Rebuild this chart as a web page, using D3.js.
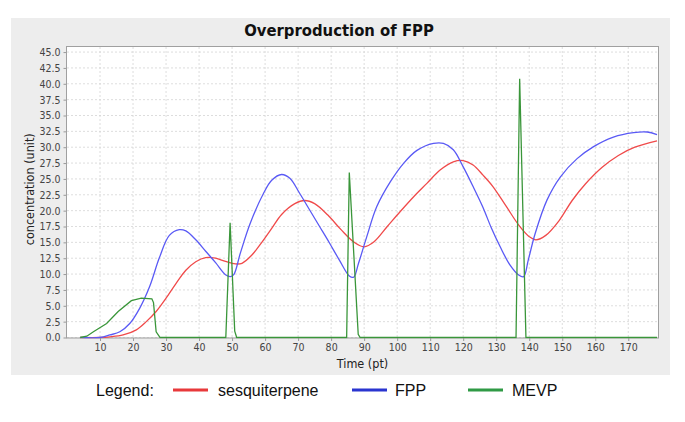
<!DOCTYPE html>
<html><head><meta charset="utf-8">
<script src="https://cdn.jsdelivr.net/npm/d3@7/dist/d3.min.js"></script>
<style>
body{margin:0;background:#fff;}
svg{display:block;}
.cond{font-family:'DejaVu Sans Condensed','DejaVu Sans',sans-serif;font-stretch:condensed;}
</style></head>
<body><svg id="c" width="685" height="422"></svg>
<script>
// ---- data ----
const title = "Overproduction of FPP";
const xLabel = "Time (pt)";
const yLabel = "concentration (unit)";
const seriesNames = ["sesquiterpene", "FPP", "MEVP"];
const seriesColors = ["#f04a4a", "#5a5af5", "#3a963a"];
const legendColors = ["#e8393b", "#2a35d0", "#2f9a45"];
const xTicks = [10,20,30,40,50,60,70,80,90,100,110,120,130,140,150,160,170];
const yTicks = [0,2.5,5,7.5,10,12.5,15,17.5,20,22.5,25,27.5,30,32.5,35,37.5,40,42.5,45];

const sesqT = [4,10,13,17,21,24,27,30,33,36,39,42,45,48,51,53,56,59,62,65,69,72,75,79,83,87,90,93,97,101,105,109,113,117,120,123,126,129,133,137,140,142,145,149,153,157,162,167,172,178.7];
const sesqV = [0,0,0.1,0.4,1.2,2.5,4.1,6.2,8.5,10.6,11.95,12.6,12.5,12.0,11.6,11.7,13.0,15.0,17.2,19.4,21.1,21.6,21.1,19.3,17.0,15.0,14.3,15.1,17.5,19.9,22.2,24.3,26.4,27.7,27.9,27.2,25.6,23.8,20.7,17.6,15.9,15.4,16.1,18.4,21.6,24.2,26.8,28.7,30.0,31.0];

const fppT = [4,10,13,16,19,22,25,28,31,34,36,39,42,45,48,49.5,50.5,52.5,55.5,59.5,62,65,67.5,70.5,73.5,76.5,79.5,82.5,85.5,86.8,88.3,90.8,93.8,98,102,106,111,114,117,120,123,126,128.5,131.2,134.2,136.8,138.3,139.7,141.8,145.4,149.4,154.5,159.5,165.5,171.6,175.7,178.7];
const fppV = [0,0,0.4,0.9,2.2,4.6,8.0,12.6,16.1,17.0,16.8,15.4,13.6,11.8,9.9,9.6,9.9,13.3,18.0,22.7,24.8,25.7,25.1,22.7,20.1,17.5,14.9,12.2,9.7,9.5,11.7,15.9,20.6,24.6,27.5,29.5,30.6,30.6,29.6,26.9,23.8,20.5,17.3,14.3,11.4,9.85,9.6,12.2,16.4,21.7,25.3,28.2,30.1,31.6,32.3,32.4,32.0];

const mevpT = [4,6,8,12,15.5,19.5,22.5,25.7,26.2,27,28.2,48.1,49.4,50.8,51.4,84.7,85.5,88.2,88.8,136,137.1,139,178.7];
const mevpV = [0,0.2,0.9,2.2,4.1,5.8,6.2,6.1,5.5,0.9,0,0,18.1,1,0,0,26.0,0.5,0,0,40.8,0,0];

// ---- layout ----
const svg = d3.select("#c");
const L = 67, R = 658, T = 47, B = 337.5;
const x = d3.scaleLinear().domain([0, 179]).range([L, R]);
const y = d3.scaleLinear().domain([0, 45.8]).range([B, T]);

svg.append("rect").attr("x",11).attr("y",18).attr("width",659).attr("height",357).attr("fill","#ededed");
svg.append("rect").attr("x",L).attr("y",T).attr("width",R-L).attr("height",B-T).attr("fill","#fff");

svg.append("text").attr("class","cond").attr("x",339).attr("y",36).attr("text-anchor","middle")
  .attr("font-size",16.5).attr("font-weight","bold").attr("fill","#111").text(title);

// grid
const g = svg.append("g");
g.selectAll(".gy").data(yTicks).join("line").attr("x1",L).attr("x2",R)
  .attr("y1",d=>y(d)).attr("y2",d=>y(d)).attr("stroke","#d4d4d4").attr("stroke-dasharray","2,2").attr("stroke-width",0.8);
g.selectAll(".gx").data(xTicks).join("line").attr("y1",T).attr("y2",B)
  .attr("x1",d=>x(d)).attr("x2",d=>x(d)).attr("stroke","#d4d4d4").attr("stroke-dasharray","2,2").attr("stroke-width",0.8);

// axes
const yAxis = svg.append("g").attr("transform",`translate(${L-0.5},0)`)
  .call(d3.axisLeft(y).tickValues(yTicks).tickFormat(d3.format(".1f")).tickSize(3).tickSizeOuter(0));
const xAxis = svg.append("g").attr("transform",`translate(0,${B+0.5})`)
  .call(d3.axisBottom(x).tickValues(xTicks).tickSize(3).tickSizeOuter(0));
[yAxis,xAxis].forEach(a=>{
  a.selectAll("text").attr("class","cond").attr("font-size",10.5).attr("fill","#444");
  a.selectAll("line").attr("stroke","#999");
  a.select(".domain").remove();
});
// plot border
svg.append("rect").attr("x",L-0.5).attr("y",T-0.5).attr("width",R-L+1).attr("height",B-T+1)
  .attr("fill","none").attr("stroke","#a0a0a0").attr("stroke-width",1);

svg.append("text").attr("class","cond").attr("x",(L+R)/2).attr("y",368).attr("text-anchor","middle")
  .attr("font-size",12.5).attr("fill","#222").text(xLabel);
svg.append("text").attr("class","cond").attr("transform",`translate(34,${(T+B)/2-3}) rotate(-90)`)
  .attr("text-anchor","middle").attr("font-size",12.5).attr("fill","#222").text(yLabel);

// series
const clip = svg.append("clipPath").attr("id","cp").append("rect").attr("x",L).attr("y",T).attr("width",R-L).attr("height",B-T+1);
const mk = (ts, vs) => ts.map((t,i)=>[t, vs[i]]);
const smooth = d3.line().x(d=>x(d[0])).y(d=>y(d[1])).curve(d3.curveCatmullRom.alpha(0.5));
const lin = d3.line().x(d=>x(d[0])).y(d=>y(d[1]));
const lines = svg.append("g").attr("clip-path","url(#cp)");
lines.append("path").attr("d",smooth(mk(sesqT,sesqV))).attr("fill","none").attr("stroke",seriesColors[0]).attr("stroke-width",1.3);
lines.append("path").attr("d",smooth(mk(fppT,fppV))).attr("fill","none").attr("stroke",seriesColors[1]).attr("stroke-width",1.3);
lines.append("path").attr("d",lin(mk(mevpT,mevpV))).attr("fill","none").attr("stroke",seriesColors[2]).attr("stroke-width",1.3);

// legend
const lg = svg.append("g").attr("font-family","'Liberation Sans',Arial,sans-serif").attr("font-size",16).attr("fill","#111");
lg.append("text").attr("x",96).attr("y",396).text("Legend:");
const items = [{x:173,tx:218},{x:352,tx:395},{x:468,tx:512}];
items.forEach((it,i)=>{
  lg.append("line").attr("x1",it.x).attr("x2",it.x+35).attr("y1",390).attr("y2",390)
    .attr("stroke",legendColors[i]).attr("stroke-width",3);
  lg.append("text").attr("x",it.tx).attr("y",396).text(seriesNames[i]);
});
</script></body></html>
